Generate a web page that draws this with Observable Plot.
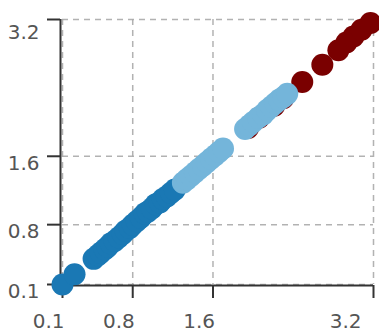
<!DOCTYPE html>
<html>
<head>
<meta charset="utf-8">
<script src="https://cdn.jsdelivr.net/npm/d3@7"></script>
<script src="https://cdn.jsdelivr.net/npm/@observablehq/plot@0.6"></script>
<style>
  html, body { margin: 0; padding: 0; background: #fff; }
</style>
</head>
<body>
<div id="chart"></div>
<script>
const ticks = [0.1, 0.8, 1.6, 3.2];
const tickLabels = ["0.1", "0.8", "1.6", "3.2"];

// dark blue series
const darkX = [0.10, 0.22, 0.41, 0.45, 0.48, 0.52, 0.55, 0.58, 0.62, 0.66, 0.70, 0.73, 0.77, 0.80, 0.84, 0.88, 0.92, 0.95, 0.99, 1.03, 1.07, 1.10, 1.14, 1.18, 1.22];
const darkY = [0.10, 0.22, 0.40, 0.44, 0.47, 0.51, 0.54, 0.58, 0.61, 0.65, 0.69, 0.73, 0.76, 0.80, 0.84, 0.88, 0.93, 0.95, 0.99, 1.04, 1.06, 1.10, 1.13, 1.17, 1.21];
// light blue series
const lightX = [1.30, 1.34, 1.38, 1.42, 1.46, 1.50, 1.54, 1.58, 1.62, 1.66, 1.70, 1.92, 1.96, 2.00, 2.05, 2.10, 2.14, 2.18, 2.22, 2.26, 2.30, 2.34];
const lightY = [1.29, 1.33, 1.37, 1.41, 1.45, 1.49, 1.53, 1.57, 1.61, 1.65, 1.69, 1.92, 1.96, 2.00, 2.05, 2.09, 2.14, 2.18, 2.22, 2.26, 2.29, 2.33];
// dark red series
const redX = [1.95, 2.06, 2.21, 2.30, 2.49, 2.69, 2.85, 2.93, 3.00, 3.08, 3.17];
const redY = [1.93, 2.05, 2.19, 2.28, 2.47, 2.67, 2.84, 2.93, 3.00, 3.08, 3.16];

const seriesColors = {dark: "#1a78b4", light: "#74b5da", red: "#7a0000"};

const rows = (xs, ys, g) => xs.map((x, i) => ({x, y: ys[i], g}));
const data = [
  ...rows(redX, redY, "red"),
  ...rows(darkX, darkY, "dark"),
  ...rows(lightX, lightY, "light")
];

const fmt = d => tickLabels[ticks.indexOf(d)];
const tickStyle = {tickSize: 13, stroke: "#333", strokeWidth: 2, tickFormat: () => "", label: null};
const textStyle = {tickSize: 0, tickFormat: fmt, fill: "#555", label: null};

const chart = Plot.plot({
  width: 379,
  height: 334,
  marginLeft: 62,
  marginRight: 6,
  marginTop: 19,
  marginBottom: 50,
  style: {fontFamily: "DejaVu Sans", fontSize: "20px", color: "#555", background: "#fff"},
  x: {domain: [0.1, 3.2], axis: null},
  y: {domain: [0.1, 3.2], axis: null},
  color: {domain: Object.keys(seriesColors), range: Object.values(seriesColors)},
  marks: [
    Plot.gridX(ticks, {stroke: "#aaa", strokeOpacity: 0.9, strokeWidth: 1.5, strokeDasharray: "6,5"}),
    Plot.gridY(ticks, {stroke: "#aaa", strokeOpacity: 0.9, strokeWidth: 1.5, strokeDasharray: "6,5"}),
    Plot.ruleX([0.1], {stroke: "#333", strokeWidth: 2, dx: -2}),
    Plot.ruleY([0.1], {stroke: "#333", strokeWidth: 2, dy: 1}),
    Plot.axisX(ticks, {...tickStyle, dy: 1}),
    Plot.axisY(ticks, {...tickStyle, dx: -2}),
    Plot.axisX(ticks.slice(0, 3), {...textStyle, tickPadding: 29, textAnchor: "end", dx: 2}),
    Plot.axisX(ticks.slice(3), {...textStyle, tickPadding: 29, textAnchor: "end", dx: -12}),
    Plot.axisY(ticks.slice(0, 3), {...textStyle, tickPadding: 21, dx: -2, dy: 7}),
    Plot.axisY(ticks.slice(3), {...textStyle, tickPadding: 21, dx: -2, dy: 13}),
    Plot.dot(data, {x: "x", y: "y", fill: "g", r: 11, stroke: "none", fillOpacity: 1})
  ]
});
document.getElementById("chart").appendChild(chart);
</script>
</body>
</html>
